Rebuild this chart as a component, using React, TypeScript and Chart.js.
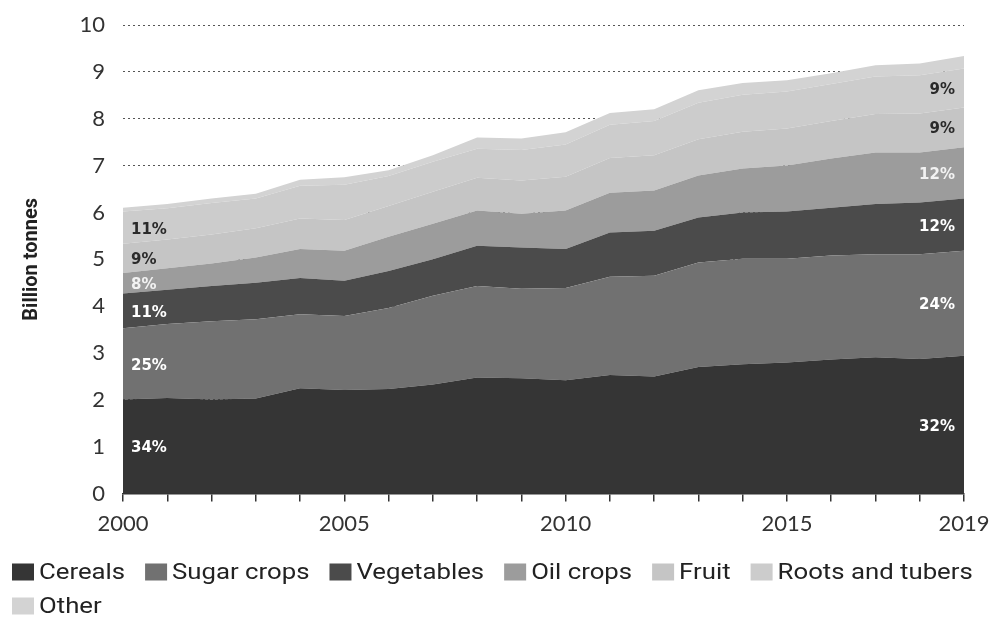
import React, { useEffect, useRef } from "react";
import { Chart, registerables } from "chart.js";

Chart.register(...registerables);

const years = ["2000","2001","2002","2003","2004","2005","2006","2007","2008","2009","2010","2011","2012","2013","2014","2015","2016","2017","2018","2019"];
const xTickLabels = ["2000", "2005", "2010", "2015", "2019"];

const cereals = [2.01, 2.04, 2.01, 2.03, 2.25, 2.21, 2.23, 2.33, 2.48, 2.46, 2.42, 2.53, 2.50, 2.70, 2.76, 2.80, 2.86, 2.91, 2.87, 2.94];
const sugarCrops = [1.52, 1.58, 1.67, 1.69, 1.58, 1.58, 1.73, 1.89, 1.95, 1.91, 1.97, 2.10, 2.15, 2.23, 2.25, 2.21, 2.22, 2.20, 2.24, 2.24];
const vegetables = [0.74, 0.73, 0.75, 0.78, 0.77, 0.75, 0.79, 0.78, 0.86, 0.88, 0.83, 0.94, 0.96, 0.96, 0.99, 1.01, 1.02, 1.07, 1.10, 1.12];
const oilCrops = [0.44, 0.46, 0.48, 0.54, 0.62, 0.64, 0.73, 0.76, 0.75, 0.72, 0.82, 0.85, 0.86, 0.90, 0.94, 0.98, 1.05, 1.10, 1.07, 1.09];
const fruit = [0.62, 0.61, 0.62, 0.62, 0.65, 0.66, 0.66, 0.68, 0.70, 0.71, 0.72, 0.74, 0.75, 0.77, 0.78, 0.79, 0.80, 0.82, 0.83, 0.85];
const rootsTubers = [0.69, 0.67, 0.67, 0.64, 0.70, 0.75, 0.64, 0.64, 0.62, 0.65, 0.69, 0.71, 0.73, 0.78, 0.79, 0.79, 0.79, 0.80, 0.82, 0.83];
const other = [0.08, 0.09, 0.10, 0.10, 0.13, 0.16, 0.12, 0.14, 0.24, 0.25, 0.26, 0.25, 0.25, 0.27, 0.25, 0.24, 0.23, 0.24, 0.25, 0.27];

const seriesNames = ["Cereals", "Sugar crops", "Vegetables", "Oil crops", "Fruit", "Roots and tubers", "Other"];
const seriesData = [cereals, sugarCrops, vegetables, oilCrops, fruit, rootsTubers, other];
const seriesColors = ["#353535", "#717171", "#4b4b4b", "#9c9c9c", "#c5c5c5", "#cccccc", "#d3d3d3"];

const startShares = ["34%", "25%", "11%", "8%", "9%", "11%", ""];
const endShares = ["32%", "24%", "12%", "12%", "9%", "9%", ""];
const shareTextColors = ["#ffffff", "#ffffff", "#ffffff", "#f2f2f2", "#2a2a2a", "#2a2a2a", "#2a2a2a"];

const TICK_FONT = "Lato, 'Open Sans', sans-serif";
const LABEL_FONT = "'DejaVu Sans', sans-serif";
const LEGEND_FONT = "Roboto, sans-serif";
const STRETCH = 1.17;

const shareLabelsPlugin = {
  id: "shareLabels",
  afterDatasetsDraw(chart: any) {
    const { ctx } = chart;
    const xs = chart.scales.x;
    const ys = chart.scales.y;
    const last = years.length - 1;
    let cumL = 0;
    let cumR = 0;
    ctx.save();
    ctx.font = `bold 15px ${LABEL_FONT}`;
    ctx.textBaseline = "middle";
    seriesData.forEach((arr, i) => {
      const midL = cumL + arr[0] / 2;
      const midR = cumR + arr[last] / 2;
      cumL += arr[0];
      cumR += arr[last];
      ctx.fillStyle = shareTextColors[i];
      if (startShares[i]) {
        ctx.textAlign = "left";
        ctx.fillText(startShares[i], xs.getPixelForValue(0) + 8, ys.getPixelForValue(midL) + 2);
      }
      if (endShares[i]) {
        ctx.textAlign = "right";
        ctx.fillText(endShares[i], xs.getPixelForValue(last) - 9, ys.getPixelForValue(midR) + 2);
      }
    });
    ctx.restore();
  },
};

const legendPlugin = {
  id: "bottomLegend",
  afterDraw(chart: any) {
    const { ctx } = chart;
    ctx.save();
    ctx.font = `22px ${LEGEND_FONT}`;
    ctx.textBaseline = "middle";
    ctx.textAlign = "left";
    const boxW = 22;
    const boxH = 17;
    const gap = 5;
    const spacing = 20;
    const startX = 12;
    let x = startX;
    let y = 572;
    chart.data.datasets.forEach((ds: any) => {
      const tw = ctx.measureText(ds.label).width * STRETCH;
      const w = boxW + gap + tw;
      if (x > startX && x + w > 985) {
        x = startX;
        y += 34;
      }
      ctx.fillStyle = ds.backgroundColor;
      ctx.fillRect(x, y - boxH / 2, boxW, boxH);
      ctx.fillStyle = "#222222";
      ctx.save();
      ctx.translate(x + boxW + gap, y + 1);
      ctx.scale(STRETCH, 1);
      ctx.fillText(ds.label, 0, 0);
      ctx.restore();
      x += w + spacing;
    });
    ctx.restore();
  },
};

export default function App() {
  const canvasRef = useRef<HTMLCanvasElement | null>(null);

  useEffect(() => {
    if (!canvasRef.current) return;
    const chart = new Chart(canvasRef.current, {
      type: "line",
      data: {
        labels: years,
        datasets: seriesData.map((arr, i) => ({
          label: seriesNames[i],
          data: arr,
          backgroundColor: seriesColors[i],
          borderColor: seriesColors[i],
          borderWidth: 0,
          pointRadius: 0,
          tension: 0,
          fill: i === 0 ? "origin" : "-1",
        })),
      },
      options: {
        animation: false,
        responsive: true,
        maintainAspectRatio: false,
        layout: { padding: { top: 25, right: 31, bottom: 72, left: 0 } },
        plugins: {
          legend: { display: false },
          tooltip: { enabled: false },
        },
        scales: {
          x: {
            offset: false,
            afterFit: (scale: any) => {
              scale.paddingLeft = 0;
              scale.paddingRight = 0;
            },
            grid: {
              display: true,
              drawOnChartArea: false,
              drawTicks: true,
              tickLength: 8,
              color: "#333333",
              lineWidth: 1.5,
            },
            border: { display: true, color: "#333333", width: 1.5 },
            ticks: {
              autoSkip: false,
              maxRotation: 0,
              padding: 9,
              color: "#333333",
              font: { family: TICK_FONT, size: 22 },
              callback: (_v: any, idx: number) => (xTickLabels.includes(years[idx]) ? years[idx] : ""),
            },
          },
          y: {
            stacked: true,
            min: 0,
            max: 10,
            afterFit: (scale: any) => {
              scale.width = 123;
            },
            grid: {
              color: "#555555",
              lineWidth: 1,
              drawTicks: true,
              tickLength: 10,
              tickColor: "rgba(0,0,0,0)",
            },
            border: { display: false, dash: [2, 3] },
            ticks: {
              stepSize: 1,
              padding: 8,
              color: "#333333",
              font: { family: TICK_FONT, size: 22 },
            },
            title: {
              display: true,
              text: "Billion tonnes",
              color: "#222222",
              font: { family: LEGEND_FONT, size: 20, weight: "bold" },
              padding: { top: 20, bottom: 0 },
            },
          },
        },
      },
      plugins: [shareLabelsPlugin, legendPlugin],
    });
    return () => chart.destroy();
  }, []);

  return (
    <div style={{ position: "fixed", left: 0, top: 0, width: 995, height: 618, background: "#ffffff" }}>
      <canvas ref={canvasRef} />
    </div>
  );
}
